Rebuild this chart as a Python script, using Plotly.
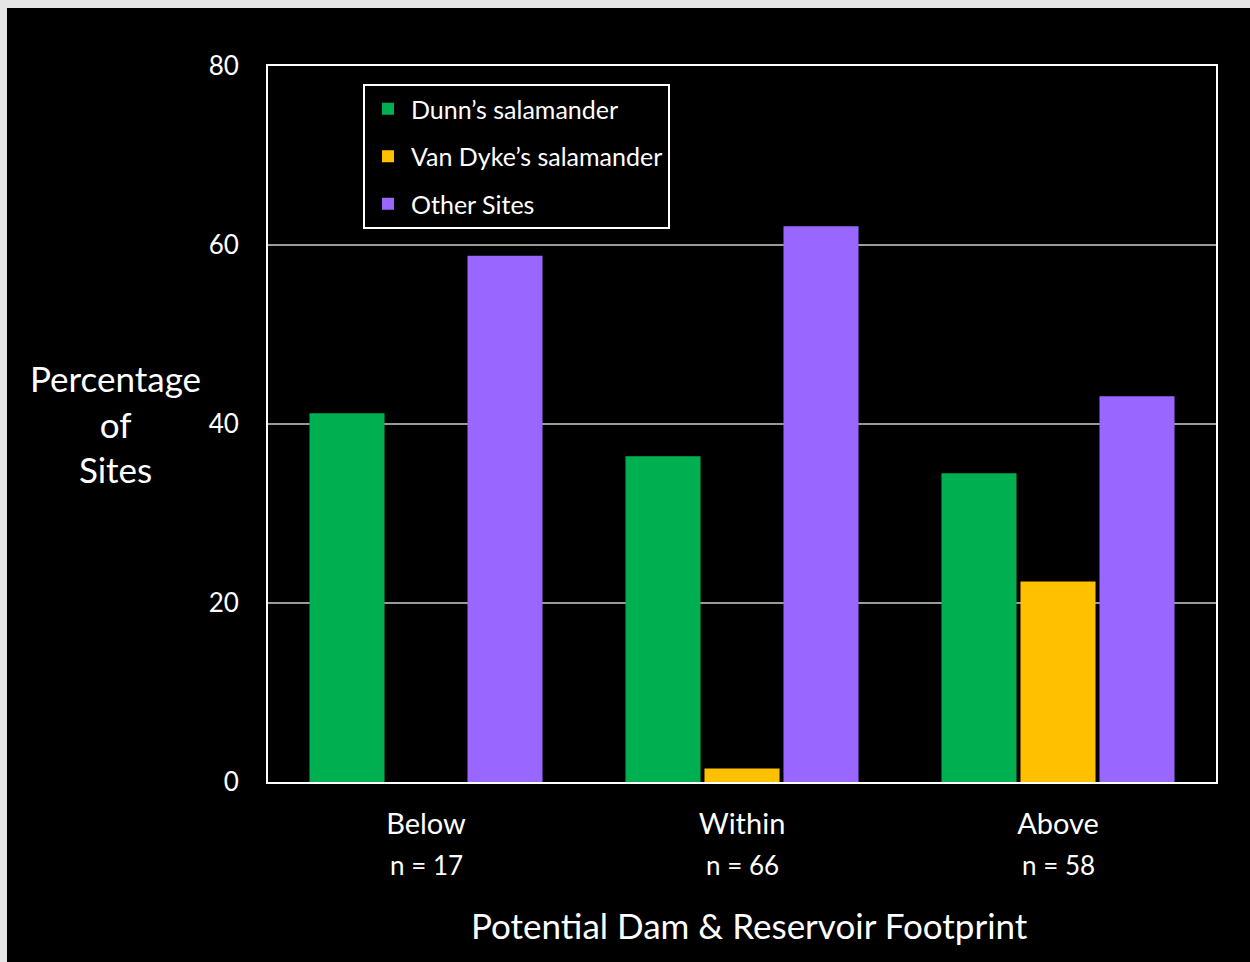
import plotly.graph_objects as go

categories = ["Below", "Within", "Above"]
sample_sizes = ["n = 17", "n = 66", "n = 58"]
dunns = [41.2, 36.4, 34.5]
van_dykes = [0.0, 1.5, 22.4]
other_sites = [58.8, 62.1, 43.1]
series_names = ["Dunn’s salamander", "Van Dyke’s salamander", "Other Sites"]
series_colors = ["#00B050", "#FFC000", "#9966FF"]
y_ticks = [0, 20, 40, 60, 80]

FONT = "Lato"
W, H = 1250, 962
L, R, T, B = 268, 34, 66, 180

fig = go.Figure()
for i, (name, vals, col) in enumerate(zip(series_names, [dunns, van_dykes, other_sites], series_colors)):
    fig.add_trace(go.Bar(
        x=categories, y=vals, name=name, marker=dict(color=col, line=dict(width=0)),
        legendgroup=f"g{i}",
    ))

fig.update_layout(
    width=W, height=H,
    margin=dict(l=L, r=R, t=T, b=B, pad=0),
    paper_bgcolor="black", plot_bgcolor="black",
    font=dict(family=FONT, color="white", size=24),
    barmode="group", bargap=0.25, bargroupgap=0.05,
    showlegend=True,
    legend=dict(
        x=(363 - L) / (W - L - R), y=(H - B - 84) / (H - T - B),
        xanchor="left", yanchor="top",
        bgcolor="black", bordercolor="white", borderwidth=2,
        font=dict(family=FONT, size=25, color="white"),
        tracegroupgap=12, itemwidth=36,
    ),
    xaxis=dict(
        showline=True, linecolor="white", linewidth=2, mirror=True,
        showgrid=False, ticks="", tickfont=dict(size=29, family=FONT, color="white"),
        ticklabelstandoff=15,
    ),
    yaxis=dict(
        range=[0, 80], tickvals=y_ticks, showline=True, linecolor="white", linewidth=2,
        mirror=True, showgrid=True, gridcolor="#9a9a9a", gridwidth=2,
        ticks="", tickfont=dict(size=26, family=FONT, color="white"),
        ticklabelstandoff=22, zeroline=False,
    ),
)

for cat, n in zip(categories, sample_sizes):
    fig.add_annotation(x=cat, xref="x", y=-(865 - (H - B)) / (H - T - B), yref="paper",
                       text=n, showarrow=False, font=dict(size=26, family=FONT, color="white"),
                       yanchor="middle")

fig.add_annotation(x=(749 - L) / (W - L - R), xref="paper", y=-(925 - (H - B)) / (H - T - B), yref="paper",
                   text="Potential Dam &amp; Reservoir Footprint", showarrow=False,
                   font=dict(size=35, family=FONT, color="white"), yanchor="middle")

fig.add_annotation(x=(115 - L) / (W - L - R), xref="paper", y=(H - B - 423) / (H - T - B), yref="paper",
                   text="Percentage<br>of<br>Sites", showarrow=False, align="center",
                   font=dict(size=35, family=FONT, color="white"), yanchor="middle", xanchor="center")

# light frame at top and left edge of the picture
pw, ph = W - L - R, H - T - B
fig.add_shape(type="rect", xref="paper", yref="paper",
              x0=-L / pw, x1=(W - L) / pw, y0=(H - B - 8) / ph, y1=(H - B) / ph,
              fillcolor="#e6e6e6", line=dict(width=0), layer="above")
fig.add_shape(type="rect", xref="paper", yref="paper",
              x0=-L / pw, x1=(7 - L) / pw, y0=-B / ph, y1=(H - B) / ph,
              fillcolor="#e6e6e6", line=dict(width=0), layer="above")

fig.write_html("out.html")
